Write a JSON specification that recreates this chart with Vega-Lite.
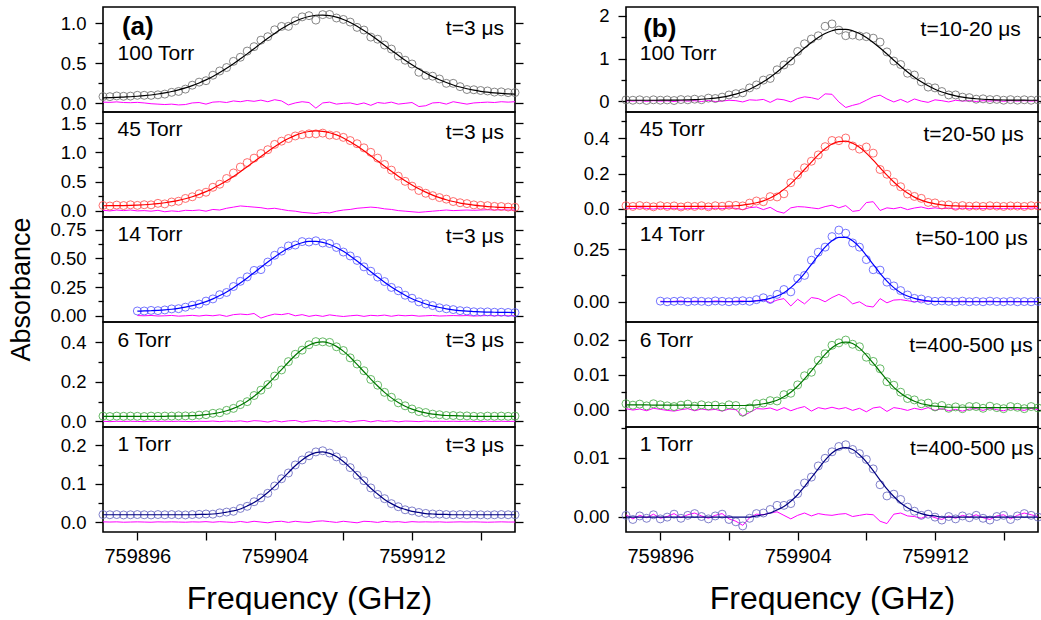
{
"$schema":"https://vega.github.io/schema/vega-lite/v6.json",
"background":"white",
"padding":{"left":7,"top":6,"right":0,"bottom":0},
"columns":2,
"spacing":{"row":0,"column":111},
"bounds":"flush",
"datasets":{
"a1":[{"f":759894,"obs":0.084,"fit":0.069,"res":0.015},{"f":759894.4,"obs":0.083,"fit":0.071,"res":0.012},{"f":759894.8,"obs":0.092,"fit":0.074,"res":0.018},{"f":759895.2,"obs":0.088,"fit":0.078,"res":0.01},{"f":759895.6,"obs":0.09,"fit":0.082,"res":0.008},{"f":759896,"obs":0.1,"fit":0.088,"res":0.012},{"f":759896.4,"obs":0.1,"fit":0.095,"res":0.005},{"f":759896.8,"obs":0.099,"fit":0.104,"res":-0.005},{"f":759897.2,"obs":0.106,"fit":0.116,"res":-0.01},{"f":759897.6,"obs":0.115,"fit":0.13,"res":-0.015},{"f":759898,"obs":0.137,"fit":0.147,"res":-0.01},{"f":759898.4,"obs":0.148,"fit":0.168,"res":-0.02},{"f":759898.8,"obs":0.177,"fit":0.192,"res":-0.015},{"f":759899.2,"obs":0.226,"fit":0.221,"res":0.005},{"f":759899.6,"obs":0.264,"fit":0.254,"res":0.01},{"f":759900,"obs":0.282,"fit":0.292,"res":-0.01},{"f":759900.4,"obs":0.35,"fit":0.335,"res":0.015},{"f":759900.8,"obs":0.403,"fit":0.383,"res":0.02},{"f":759901.2,"obs":0.446,"fit":0.436,"res":0.01},{"f":759901.6,"obs":0.523,"fit":0.493,"res":0.03},{"f":759902,"obs":0.574,"fit":0.554,"res":0.02},{"f":759902.4,"obs":0.651,"fit":0.616,"res":0.035},{"f":759902.8,"obs":0.706,"fit":0.681,"res":0.025},{"f":759903.2,"obs":0.787,"fit":0.747,"res":0.04},{"f":759903.6,"obs":0.83,"fit":0.81,"res":0.02},{"f":759904,"obs":0.916,"fit":0.871,"res":0.045},{"f":759904.4,"obs":0.958,"fit":0.928,"res":0.03},{"f":759904.8,"obs":0.959,"fit":0.979,"res":-0.02},{"f":759905.2,"obs":1.028,"fit":1.023,"res":0.005},{"f":759905.6,"obs":1.077,"fit":1.057,"res":0.02},{"f":759906,"obs":1.092,"fit":1.082,"res":0.01},{"f":759906.4,"obs":1.037,"fit":1.097,"res":-0.06},{"f":759906.8,"obs":1.105,"fit":1.1,"res":0.005},{"f":759907.2,"obs":1.107,"fit":1.092,"res":0.015},{"f":759907.6,"obs":1.063,"fit":1.073,"res":-0.01},{"f":759908,"obs":1.045,"fit":1.045,"res":0},{"f":759908.4,"obs":1.012,"fit":1.007,"res":0.005},{"f":759908.8,"obs":0.946,"fit":0.961,"res":-0.015},{"f":759909.2,"obs":0.913,"fit":0.908,"res":0.005},{"f":759909.6,"obs":0.825,"fit":0.85,"res":-0.025},{"f":759910,"obs":0.799,"fit":0.789,"res":0.01},{"f":759910.4,"obs":0.726,"fit":0.726,"res":0},{"f":759910.8,"obs":0.676,"fit":0.661,"res":0.015},{"f":759911.2,"obs":0.589,"fit":0.599,"res":-0.01},{"f":759911.6,"obs":0.537,"fit":0.537,"res":0},{"f":759912,"obs":0.49,"fit":0.48,"res":0.01},{"f":759912.4,"obs":0.387,"fit":0.427,"res":-0.04},{"f":759912.8,"obs":0.347,"fit":0.377,"res":-0.03},{"f":759913.2,"obs":0.338,"fit":0.333,"res":0.005},{"f":759913.6,"obs":0.303,"fit":0.293,"res":0.01},{"f":759914,"obs":0.249,"fit":0.259,"res":-0.01},{"f":759914.4,"obs":0.249,"fit":0.229,"res":0.02},{"f":759914.8,"obs":0.208,"fit":0.203,"res":0.005},{"f":759915.2,"obs":0.172,"fit":0.182,"res":-0.01},{"f":759915.6,"obs":0.169,"fit":0.164,"res":0.005},{"f":759916,"obs":0.16,"fit":0.15,"res":0.01},{"f":759916.4,"obs":0.154,"fit":0.139,"res":0.015},{"f":759916.8,"obs":0.14,"fit":0.13,"res":0.01},{"f":759917.2,"obs":0.143,"fit":0.123,"res":0.02},{"f":759917.6,"obs":0.133,"fit":0.118,"res":0.015},{"f":759918,"obs":0.134,"fit":0.114,"res":0.02}],
"a2":[{"f":759894,"obs":0.088,"fit":0.083,"res":0.005},{"f":759894.4,"obs":0.079,"fit":0.084,"res":-0.005},{"f":759894.8,"obs":0.095,"fit":0.085,"res":0.01},{"f":759895.2,"obs":0.087,"fit":0.087,"res":0},{"f":759895.6,"obs":0.1,"fit":0.09,"res":0.01},{"f":759896,"obs":0.09,"fit":0.095,"res":-0.005},{"f":759896.4,"obs":0.101,"fit":0.101,"res":0},{"f":759896.8,"obs":0.099,"fit":0.109,"res":-0.01},{"f":759897.2,"obs":0.125,"fit":0.12,"res":0.005},{"f":759897.6,"obs":0.115,"fit":0.135,"res":-0.02},{"f":759898,"obs":0.148,"fit":0.153,"res":-0.005},{"f":759898.4,"obs":0.161,"fit":0.176,"res":-0.015},{"f":759898.8,"obs":0.209,"fit":0.204,"res":0.005},{"f":759899.2,"obs":0.238,"fit":0.238,"res":0},{"f":759899.6,"obs":0.289,"fit":0.279,"res":0.01},{"f":759900,"obs":0.316,"fit":0.326,"res":-0.01},{"f":759900.4,"obs":0.401,"fit":0.381,"res":0.02},{"f":759900.8,"obs":0.453,"fit":0.443,"res":0.01},{"f":759901.2,"obs":0.552,"fit":0.512,"res":0.04},{"f":759901.6,"obs":0.647,"fit":0.587,"res":0.06},{"f":759902,"obs":0.749,"fit":0.669,"res":0.08},{"f":759902.4,"obs":0.825,"fit":0.755,"res":0.07},{"f":759902.8,"obs":0.902,"fit":0.842,"res":0.06},{"f":759903.2,"obs":0.981,"fit":0.931,"res":0.05},{"f":759903.6,"obs":1.047,"fit":1.017,"res":0.03},{"f":759904,"obs":1.138,"fit":1.098,"res":0.04},{"f":759904.4,"obs":1.194,"fit":1.174,"res":0.02},{"f":759904.8,"obs":1.239,"fit":1.239,"res":0},{"f":759905.2,"obs":1.283,"fit":1.293,"res":-0.01},{"f":759905.6,"obs":1.304,"fit":1.334,"res":-0.03},{"f":759906,"obs":1.32,"fit":1.36,"res":-0.04},{"f":759906.4,"obs":1.319,"fit":1.369,"res":-0.05},{"f":759906.8,"obs":1.332,"fit":1.362,"res":-0.03},{"f":759907.2,"obs":1.299,"fit":1.339,"res":-0.04},{"f":759907.6,"obs":1.291,"fit":1.301,"res":-0.01},{"f":759908,"obs":1.259,"fit":1.249,"res":0.01},{"f":759908.4,"obs":1.204,"fit":1.184,"res":0.02},{"f":759908.8,"obs":1.15,"fit":1.11,"res":0.04},{"f":759909.2,"obs":1.079,"fit":1.029,"res":0.05},{"f":759909.6,"obs":1.002,"fit":0.942,"res":0.06},{"f":759910,"obs":0.902,"fit":0.852,"res":0.05},{"f":759910.4,"obs":0.793,"fit":0.763,"res":0.03},{"f":759910.8,"obs":0.696,"fit":0.676,"res":0.02},{"f":759911.2,"obs":0.592,"fit":0.592,"res":0},{"f":759911.6,"obs":0.503,"fit":0.513,"res":-0.01},{"f":759912,"obs":0.421,"fit":0.441,"res":-0.02},{"f":759912.4,"obs":0.346,"fit":0.376,"res":-0.03},{"f":759912.8,"obs":0.298,"fit":0.318,"res":-0.02},{"f":759913.2,"obs":0.257,"fit":0.267,"res":-0.01},{"f":759913.6,"obs":0.224,"fit":0.224,"res":0},{"f":759914,"obs":0.197,"fit":0.187,"res":0.01},{"f":759914.4,"obs":0.156,"fit":0.156,"res":0},{"f":759914.8,"obs":0.135,"fit":0.13,"res":0.005},{"f":759915.2,"obs":0.12,"fit":0.11,"res":0.01},{"f":759915.6,"obs":0.098,"fit":0.093,"res":0.005},{"f":759916,"obs":0.09,"fit":0.08,"res":0.01},{"f":759916.4,"obs":0.085,"fit":0.07,"res":0.015},{"f":759916.8,"obs":0.072,"fit":0.062,"res":0.01},{"f":759917.2,"obs":0.07,"fit":0.055,"res":0.015},{"f":759917.6,"obs":0.061,"fit":0.051,"res":0.01},{"f":759918,"obs":0.057,"fit":0.047,"res":0.01}],
"a3":[{"f":759896,"obs":0.042,"fit":0.04,"res":0.002},{"f":759896.4,"obs":0.042,"fit":0.042,"res":0},{"f":759896.8,"obs":0.047,"fit":0.044,"res":0.003},{"f":759897.2,"obs":0.045,"fit":0.047,"res":-0.002},{"f":759897.6,"obs":0.051,"fit":0.051,"res":0},{"f":759898,"obs":0.06,"fit":0.057,"res":0.003},{"f":759898.4,"obs":0.062,"fit":0.065,"res":-0.003},{"f":759898.8,"obs":0.075,"fit":0.075,"res":0},{"f":759899.2,"obs":0.092,"fit":0.088,"res":0.004},{"f":759899.6,"obs":0.102,"fit":0.104,"res":-0.002},{"f":759900,"obs":0.128,"fit":0.123,"res":0.005},{"f":759900.4,"obs":0.147,"fit":0.147,"res":0},{"f":759900.8,"obs":0.184,"fit":0.176,"res":0.008},{"f":759901.2,"obs":0.203,"fit":0.208,"res":-0.005},{"f":759901.6,"obs":0.255,"fit":0.245,"res":0.01},{"f":759902,"obs":0.3,"fit":0.285,"res":0.015},{"f":759902.4,"obs":0.339,"fit":0.329,"res":0.01},{"f":759902.8,"obs":0.395,"fit":0.375,"res":0.02},{"f":759903.2,"obs":0.402,"fit":0.422,"res":-0.02},{"f":759903.6,"obs":0.468,"fit":0.468,"res":0},{"f":759904,"obs":0.527,"fit":0.512,"res":0.015},{"f":759904.4,"obs":0.563,"fit":0.553,"res":0.01},{"f":759904.8,"obs":0.608,"fit":0.588,"res":0.02},{"f":759905.2,"obs":0.616,"fit":0.616,"res":0},{"f":759905.6,"obs":0.646,"fit":0.636,"res":0.01},{"f":759906,"obs":0.642,"fit":0.647,"res":-0.005},{"f":759906.4,"obs":0.653,"fit":0.648,"res":0.005},{"f":759906.8,"obs":0.634,"fit":0.639,"res":-0.005},{"f":759907.2,"obs":0.629,"fit":0.621,"res":0.008},{"f":759907.6,"obs":0.595,"fit":0.595,"res":0},{"f":759908,"obs":0.555,"fit":0.561,"res":-0.006},{"f":759908.4,"obs":0.521,"fit":0.521,"res":0},{"f":759908.8,"obs":0.482,"fit":0.477,"res":0.005},{"f":759909.2,"obs":0.426,"fit":0.431,"res":-0.005},{"f":759909.6,"obs":0.388,"fit":0.384,"res":0.004},{"f":759910,"obs":0.337,"fit":0.337,"res":0},{"f":759910.4,"obs":0.298,"fit":0.292,"res":0.006},{"f":759910.8,"obs":0.247,"fit":0.251,"res":-0.004},{"f":759911.2,"obs":0.218,"fit":0.213,"res":0.005},{"f":759911.6,"obs":0.179,"fit":0.179,"res":0},{"f":759912,"obs":0.153,"fit":0.149,"res":0.004},{"f":759912.4,"obs":0.121,"fit":0.124,"res":-0.003},{"f":759912.8,"obs":0.103,"fit":0.103,"res":0},{"f":759913.2,"obs":0.089,"fit":0.086,"res":0.003},{"f":759913.6,"obs":0.07,"fit":0.072,"res":-0.002},{"f":759914,"obs":0.061,"fit":0.061,"res":0},{"f":759914.4,"obs":0.054,"fit":0.052,"res":0.002},{"f":759914.8,"obs":0.045,"fit":0.045,"res":0},{"f":759915.2,"obs":0.042,"fit":0.04,"res":0.002},{"f":759915.6,"obs":0.035,"fit":0.037,"res":-0.002},{"f":759916,"obs":0.034,"fit":0.034,"res":0},{"f":759916.4,"obs":0.034,"fit":0.032,"res":0.002},{"f":759916.8,"obs":0.031,"fit":0.031,"res":0},{"f":759917.2,"obs":0.031,"fit":0.029,"res":0.002},{"f":759917.6,"obs":0.029,"fit":0.029,"res":0},{"f":759918,"obs":0.028,"fit":0.028,"res":0}],
"a4":[{"f":759894,"obs":0.027,"fit":0.026,"res":0.001},{"f":759894.4,"obs":0.025,"fit":0.026,"res":-0.001},{"f":759894.8,"obs":0.027,"fit":0.026,"res":0.001},{"f":759895.2,"obs":0.026,"fit":0.026,"res":0},{"f":759895.6,"obs":0.027,"fit":0.026,"res":0.001},{"f":759896,"obs":0.026,"fit":0.026,"res":0},{"f":759896.4,"obs":0.025,"fit":0.026,"res":-0.001},{"f":759896.8,"obs":0.027,"fit":0.026,"res":0.001},{"f":759897.2,"obs":0.026,"fit":0.026,"res":0},{"f":759897.6,"obs":0.027,"fit":0.026,"res":0.001},{"f":759898,"obs":0.027,"fit":0.027,"res":0},{"f":759898.4,"obs":0.028,"fit":0.027,"res":0.001},{"f":759898.8,"obs":0.028,"fit":0.028,"res":0},{"f":759899.2,"obs":0.028,"fit":0.029,"res":-0.001},{"f":759899.6,"obs":0.032,"fit":0.031,"res":0.001},{"f":759900,"obs":0.034,"fit":0.034,"res":0},{"f":759900.4,"obs":0.041,"fit":0.039,"res":0.002},{"f":759900.8,"obs":0.044,"fit":0.045,"res":-0.001},{"f":759901.2,"obs":0.056,"fit":0.054,"res":0.002},{"f":759901.6,"obs":0.066,"fit":0.066,"res":0},{"f":759902,"obs":0.085,"fit":0.082,"res":0.003},{"f":759902.4,"obs":0.1,"fit":0.102,"res":-0.002},{"f":759902.8,"obs":0.131,"fit":0.127,"res":0.004},{"f":759903.2,"obs":0.158,"fit":0.156,"res":0.002},{"f":759903.6,"obs":0.186,"fit":0.189,"res":-0.003},{"f":759904,"obs":0.229,"fit":0.225,"res":0.004},{"f":759904.4,"obs":0.26,"fit":0.262,"res":-0.002},{"f":759904.8,"obs":0.302,"fit":0.299,"res":0.003},{"f":759905.2,"obs":0.339,"fit":0.334,"res":0.005},{"f":759905.6,"obs":0.36,"fit":0.363,"res":-0.003},{"f":759906,"obs":0.387,"fit":0.385,"res":0.002},{"f":759906.4,"obs":0.403,"fit":0.398,"res":0.005},{"f":759906.8,"obs":0.402,"fit":0.402,"res":0},{"f":759907.2,"obs":0.399,"fit":0.395,"res":0.004},{"f":759907.6,"obs":0.377,"fit":0.379,"res":-0.002},{"f":759908,"obs":0.358,"fit":0.355,"res":0.003},{"f":759908.4,"obs":0.321,"fit":0.324,"res":-0.003},{"f":759908.8,"obs":0.29,"fit":0.288,"res":0.002},{"f":759909.2,"obs":0.256,"fit":0.251,"res":0.005},{"f":759909.6,"obs":0.212,"fit":0.214,"res":-0.002},{"f":759910,"obs":0.183,"fit":0.179,"res":0.004},{"f":759910.4,"obs":0.147,"fit":0.147,"res":0},{"f":759910.8,"obs":0.122,"fit":0.119,"res":0.003},{"f":759911.2,"obs":0.094,"fit":0.096,"res":-0.002},{"f":759911.6,"obs":0.079,"fit":0.077,"res":0.002},{"f":759912,"obs":0.063,"fit":0.062,"res":0.001},{"f":759912.4,"obs":0.05,"fit":0.051,"res":-0.001},{"f":759912.8,"obs":0.045,"fit":0.043,"res":0.002},{"f":759913.2,"obs":0.037,"fit":0.037,"res":0},{"f":759913.6,"obs":0.034,"fit":0.033,"res":0.001},{"f":759914,"obs":0.03,"fit":0.03,"res":0},{"f":759914.4,"obs":0.03,"fit":0.029,"res":0.001},{"f":759914.8,"obs":0.028,"fit":0.028,"res":0},{"f":759915.2,"obs":0.028,"fit":0.027,"res":0.001},{"f":759915.6,"obs":0.026,"fit":0.026,"res":0},{"f":759916,"obs":0.025,"fit":0.026,"res":-0.001},{"f":759916.4,"obs":0.027,"fit":0.026,"res":0.001},{"f":759916.8,"obs":0.026,"fit":0.026,"res":0},{"f":759917.2,"obs":0.027,"fit":0.026,"res":0.001},{"f":759917.6,"obs":0.026,"fit":0.026,"res":0},{"f":759918,"obs":0.027,"fit":0.026,"res":0.001}],
"a5":[{"f":759894,"obs":0.0195,"fit":0.019,"res":0.0005},{"f":759894.4,"obs":0.019,"fit":0.019,"res":0},{"f":759894.8,"obs":0.0195,"fit":0.019,"res":0.0005},{"f":759895.2,"obs":0.0185,"fit":0.019,"res":-0.0005},{"f":759895.6,"obs":0.019,"fit":0.019,"res":0},{"f":759896,"obs":0.0195,"fit":0.019,"res":0.0005},{"f":759896.4,"obs":0.019,"fit":0.019,"res":0},{"f":759896.8,"obs":0.0185,"fit":0.019,"res":-0.0005},{"f":759897.2,"obs":0.0195,"fit":0.019,"res":0.0005},{"f":759897.6,"obs":0.019,"fit":0.019,"res":0},{"f":759898,"obs":0.0195,"fit":0.019,"res":0.0005},{"f":759898.4,"obs":0.019,"fit":0.019,"res":0},{"f":759898.8,"obs":0.0185,"fit":0.019,"res":-0.0005},{"f":759899.2,"obs":0.0195,"fit":0.019,"res":0.0005},{"f":759899.6,"obs":0.02,"fit":0.02,"res":0},{"f":759900,"obs":0.021,"fit":0.02,"res":0.001},{"f":759900.4,"obs":0.0205,"fit":0.021,"res":-0.0005},{"f":759900.8,"obs":0.024,"fit":0.023,"res":0.001},{"f":759901.2,"obs":0.026,"fit":0.026,"res":0},{"f":759901.6,"obs":0.028,"fit":0.029,"res":-0.001},{"f":759902,"obs":0.0355,"fit":0.034,"res":0.0015},{"f":759902.4,"obs":0.041,"fit":0.042,"res":-0.001},{"f":759902.8,"obs":0.053,"fit":0.051,"res":0.002},{"f":759903.2,"obs":0.063,"fit":0.063,"res":0},{"f":759903.6,"obs":0.075,"fit":0.077,"res":-0.002},{"f":759904,"obs":0.094,"fit":0.093,"res":0.001},{"f":759904.4,"obs":0.113,"fit":0.111,"res":0.002},{"f":759904.8,"obs":0.128,"fit":0.129,"res":-0.001},{"f":759905.2,"obs":0.149,"fit":0.147,"res":0.002},{"f":759905.6,"obs":0.162,"fit":0.162,"res":0},{"f":759906,"obs":0.173,"fit":0.174,"res":-0.001},{"f":759906.4,"obs":0.183,"fit":0.181,"res":0.002},{"f":759906.8,"obs":0.186,"fit":0.183,"res":0.003},{"f":759907.2,"obs":0.18,"fit":0.179,"res":0.001},{"f":759907.6,"obs":0.17,"fit":0.171,"res":-0.001},{"f":759908,"obs":0.16,"fit":0.158,"res":0.002},{"f":759908.4,"obs":0.142,"fit":0.142,"res":0},{"f":759908.8,"obs":0.122,"fit":0.124,"res":-0.002},{"f":759909.2,"obs":0.108,"fit":0.106,"res":0.002},{"f":759909.6,"obs":0.089,"fit":0.088,"res":0.001},{"f":759910,"obs":0.072,"fit":0.073,"res":-0.001},{"f":759910.4,"obs":0.061,"fit":0.059,"res":0.002},{"f":759910.8,"obs":0.048,"fit":0.048,"res":0},{"f":759911.2,"obs":0.04,"fit":0.039,"res":0.001},{"f":759911.6,"obs":0.032,"fit":0.033,"res":-0.001},{"f":759912,"obs":0.029,"fit":0.028,"res":0.001},{"f":759912.4,"obs":0.025,"fit":0.025,"res":0},{"f":759912.8,"obs":0.0225,"fit":0.022,"res":0.0005},{"f":759913.2,"obs":0.021,"fit":0.021,"res":0},{"f":759913.6,"obs":0.0205,"fit":0.02,"res":0.0005},{"f":759914,"obs":0.0195,"fit":0.02,"res":-0.0005},{"f":759914.4,"obs":0.019,"fit":0.019,"res":0},{"f":759914.8,"obs":0.0195,"fit":0.019,"res":0.0005},{"f":759915.2,"obs":0.019,"fit":0.019,"res":0},{"f":759915.6,"obs":0.0195,"fit":0.019,"res":0.0005},{"f":759916,"obs":0.019,"fit":0.019,"res":0},{"f":759916.4,"obs":0.0185,"fit":0.019,"res":-0.0005},{"f":759916.8,"obs":0.019,"fit":0.019,"res":0},{"f":759917.2,"obs":0.0195,"fit":0.019,"res":0.0005},{"f":759917.6,"obs":0.019,"fit":0.019,"res":0},{"f":759918,"obs":0.019,"fit":0.019,"res":0}],
"b1":[{"f":759894,"obs":0.03,"fit":0.02,"res":0.01},{"f":759894.4,"obs":0.02,"fit":0.02,"res":0},{"f":759894.8,"obs":0.03,"fit":0.02,"res":0.01},{"f":759895.2,"obs":0.015,"fit":0.02,"res":-0.005},{"f":759895.6,"obs":0.03,"fit":0.02,"res":0.01},{"f":759896,"obs":0.021,"fit":0.021,"res":0},{"f":759896.4,"obs":0.027,"fit":0.022,"res":0.005},{"f":759896.8,"obs":0.014,"fit":0.024,"res":-0.01},{"f":759897.2,"obs":0.036,"fit":0.026,"res":0.01},{"f":759897.6,"obs":0.03,"fit":0.03,"res":0},{"f":759898,"obs":0.045,"fit":0.035,"res":0.01},{"f":759898.4,"obs":0.033,"fit":0.043,"res":-0.01},{"f":759898.8,"obs":0.07,"fit":0.055,"res":0.015},{"f":759899.2,"obs":0.061,"fit":0.071,"res":-0.01},{"f":759899.6,"obs":0.093,"fit":0.093,"res":0},{"f":759900,"obs":0.144,"fit":0.124,"res":0.02},{"f":759900.4,"obs":0.174,"fit":0.164,"res":0.01},{"f":759900.8,"obs":0.195,"fit":0.215,"res":-0.02},{"f":759901.2,"obs":0.31,"fit":0.28,"res":0.03},{"f":759901.6,"obs":0.379,"fit":0.359,"res":0.02},{"f":759902,"obs":0.493,"fit":0.453,"res":0.04},{"f":759902.4,"obs":0.532,"fit":0.562,"res":-0.03},{"f":759902.8,"obs":0.735,"fit":0.685,"res":0.05},{"f":759903.2,"obs":0.849,"fit":0.819,"res":0.03},{"f":759903.6,"obs":0.941,"fit":0.961,"res":-0.02},{"f":759904,"obs":1.165,"fit":1.105,"res":0.06},{"f":759904.4,"obs":1.346,"fit":1.246,"res":0.1},{"f":759904.8,"obs":1.458,"fit":1.378,"res":0.08},{"f":759905.2,"obs":1.534,"fit":1.494,"res":0.04},{"f":759905.6,"obs":1.757,"fit":1.587,"res":0.17},{"f":759906,"obs":1.812,"fit":1.652,"res":0.16},{"f":759906.4,"obs":1.666,"fit":1.686,"res":-0.02},{"f":759906.8,"obs":1.536,"fit":1.686,"res":-0.15},{"f":759907.2,"obs":1.552,"fit":1.652,"res":-0.1},{"f":759907.6,"obs":1.527,"fit":1.587,"res":-0.06},{"f":759908,"obs":1.514,"fit":1.494,"res":0.02},{"f":759908.4,"obs":1.478,"fit":1.378,"res":0.1},{"f":759908.8,"obs":1.386,"fit":1.246,"res":0.14},{"f":759909.2,"obs":1.155,"fit":1.105,"res":0.05},{"f":759909.6,"obs":0.941,"fit":0.961,"res":-0.02},{"f":759910,"obs":0.859,"fit":0.819,"res":0.04},{"f":759910.4,"obs":0.655,"fit":0.685,"res":-0.03},{"f":759910.8,"obs":0.612,"fit":0.562,"res":0.05},{"f":759911.2,"obs":0.453,"fit":0.453,"res":0},{"f":759911.6,"obs":0.329,"fit":0.359,"res":-0.03},{"f":759912,"obs":0.31,"fit":0.28,"res":0.03},{"f":759912.4,"obs":0.225,"fit":0.215,"res":0.01},{"f":759912.8,"obs":0.144,"fit":0.164,"res":-0.02},{"f":759913.2,"obs":0.144,"fit":0.124,"res":0.02},{"f":759913.6,"obs":0.093,"fit":0.093,"res":0},{"f":759914,"obs":0.081,"fit":0.071,"res":0.01},{"f":759914.4,"obs":0.045,"fit":0.055,"res":-0.01},{"f":759914.8,"obs":0.053,"fit":0.043,"res":0.01},{"f":759915.2,"obs":0.035,"fit":0.035,"res":0},{"f":759915.6,"obs":0.04,"fit":0.03,"res":0.01},{"f":759916,"obs":0.021,"fit":0.026,"res":-0.005},{"f":759916.4,"obs":0.034,"fit":0.024,"res":0.01},{"f":759916.8,"obs":0.022,"fit":0.022,"res":0},{"f":759917.2,"obs":0.031,"fit":0.021,"res":0.01},{"f":759917.6,"obs":0.02,"fit":0.02,"res":0},{"f":759918,"obs":0.03,"fit":0.02,"res":0.01}],
"b2":[{"f":759894,"obs":0.017,"fit":0.013,"res":0.004},{"f":759894.4,"obs":0.013,"fit":0.013,"res":0},{"f":759894.8,"obs":0.018,"fit":0.013,"res":0.005},{"f":759895.2,"obs":0.015,"fit":0.013,"res":0.002},{"f":759895.6,"obs":0.011,"fit":0.013,"res":-0.002},{"f":759896,"obs":0.017,"fit":0.013,"res":0.004},{"f":759896.4,"obs":0.013,"fit":0.013,"res":0},{"f":759896.8,"obs":0.016,"fit":0.013,"res":0.003},{"f":759897.2,"obs":0.01,"fit":0.013,"res":-0.003},{"f":759897.6,"obs":0.015,"fit":0.013,"res":0.002},{"f":759898,"obs":0.013,"fit":0.013,"res":0},{"f":759898.4,"obs":0.017,"fit":0.013,"res":0.004},{"f":759898.8,"obs":0.011,"fit":0.013,"res":-0.002},{"f":759899.2,"obs":0.017,"fit":0.014,"res":0.003},{"f":759899.6,"obs":0.014,"fit":0.014,"res":0},{"f":759900,"obs":0.02,"fit":0.015,"res":0.005},{"f":759900.4,"obs":0.019,"fit":0.017,"res":0.002},{"f":759900.8,"obs":0.016,"fit":0.021,"res":-0.005},{"f":759901.2,"obs":0.032,"fit":0.026,"res":0.006},{"f":759901.6,"obs":0.044,"fit":0.034,"res":0.01},{"f":759902,"obs":0.04,"fit":0.045,"res":-0.005},{"f":759902.4,"obs":0.069,"fit":0.061,"res":0.008},{"f":759902.8,"obs":0.067,"fit":0.082,"res":-0.015},{"f":759903.2,"obs":0.085,"fit":0.11,"res":-0.025},{"f":759903.6,"obs":0.148,"fit":0.143,"res":0.005},{"f":759904,"obs":0.193,"fit":0.181,"res":0.012},{"f":759904.4,"obs":0.233,"fit":0.223,"res":0.01},{"f":759904.8,"obs":0.27,"fit":0.265,"res":0.005},{"f":759905.2,"obs":0.306,"fit":0.306,"res":0},{"f":759905.6,"obs":0.353,"fit":0.341,"res":0.012},{"f":759906,"obs":0.388,"fit":0.368,"res":0.02},{"f":759906.4,"obs":0.387,"fit":0.382,"res":0.005},{"f":759906.8,"obs":0.402,"fit":0.384,"res":0.018},{"f":759907.2,"obs":0.357,"fit":0.372,"res":-0.015},{"f":759907.6,"obs":0.339,"fit":0.349,"res":-0.01},{"f":759908,"obs":0.351,"fit":0.316,"res":0.035},{"f":759908.4,"obs":0.316,"fit":0.276,"res":0.04},{"f":759908.8,"obs":0.223,"fit":0.233,"res":-0.01},{"f":759909.2,"obs":0.196,"fit":0.191,"res":0.005},{"f":759909.6,"obs":0.152,"fit":0.152,"res":0},{"f":759910,"obs":0.125,"fit":0.117,"res":0.008},{"f":759910.4,"obs":0.084,"fit":0.089,"res":-0.005},{"f":759910.8,"obs":0.07,"fit":0.066,"res":0.004},{"f":759911.2,"obs":0.059,"fit":0.049,"res":0.01},{"f":759911.6,"obs":0.036,"fit":0.036,"res":0},{"f":759912,"obs":0.033,"fit":0.028,"res":0.005},{"f":759912.4,"obs":0.022,"fit":0.022,"res":0},{"f":759912.8,"obs":0.022,"fit":0.018,"res":0.004},{"f":759913.2,"obs":0.014,"fit":0.016,"res":-0.002},{"f":759913.6,"obs":0.018,"fit":0.015,"res":0.003},{"f":759914,"obs":0.014,"fit":0.014,"res":0},{"f":759914.4,"obs":0.016,"fit":0.013,"res":0.003},{"f":759914.8,"obs":0.013,"fit":0.013,"res":0},{"f":759915.2,"obs":0.017,"fit":0.013,"res":0.004},{"f":759915.6,"obs":0.015,"fit":0.013,"res":0.002},{"f":759916,"obs":0.013,"fit":0.013,"res":0},{"f":759916.4,"obs":0.016,"fit":0.013,"res":0.003},{"f":759916.8,"obs":0.015,"fit":0.013,"res":0.002},{"f":759917.2,"obs":0.013,"fit":0.013,"res":0},{"f":759917.6,"obs":0.017,"fit":0.013,"res":0.004},{"f":759918,"obs":0.016,"fit":0.013,"res":0.003}],
"b3":[{"f":759896,"obs":0.003,"fit":0,"res":0.003},{"f":759896.4,"obs":0,"fit":0,"res":0},{"f":759896.8,"obs":0.002,"fit":0,"res":0.002},{"f":759897.2,"obs":0.004,"fit":0,"res":0.004},{"f":759897.6,"obs":0,"fit":0,"res":0},{"f":759898,"obs":0.003,"fit":0,"res":0.003},{"f":759898.4,"obs":0.002,"fit":0,"res":0.002},{"f":759898.8,"obs":0,"fit":0,"res":0},{"f":759899.2,"obs":0.004,"fit":0,"res":0.004},{"f":759899.6,"obs":0.002,"fit":0,"res":0.002},{"f":759900,"obs":0,"fit":0,"res":0},{"f":759900.4,"obs":0.003,"fit":0,"res":0.003},{"f":759900.8,"obs":0.005,"fit":0.001,"res":0.004},{"f":759901.2,"obs":0.002,"fit":0.002,"res":0},{"f":759901.6,"obs":0.01,"fit":0.004,"res":0.006},{"f":759902,"obs":0.019,"fit":0.009,"res":0.01},{"f":759902.4,"obs":0.011,"fit":0.016,"res":-0.005},{"f":759902.8,"obs":0.035,"fit":0.027,"res":0.008},{"f":759903.2,"obs":0.058,"fit":0.043,"res":0.015},{"f":759903.6,"obs":0.047,"fit":0.067,"res":-0.02},{"f":759904,"obs":0.11,"fit":0.098,"res":0.012},{"f":759904.4,"obs":0.125,"fit":0.135,"res":-0.01},{"f":759904.8,"obs":0.197,"fit":0.177,"res":0.02},{"f":759905.2,"obs":0.235,"fit":0.22,"res":0.015},{"f":759905.6,"obs":0.259,"fit":0.259,"res":0},{"f":759906,"obs":0.309,"fit":0.289,"res":0.02},{"f":759906.4,"obs":0.34,"fit":0.305,"res":0.035},{"f":759906.8,"obs":0.325,"fit":0.305,"res":0.02},{"f":759907.2,"obs":0.279,"fit":0.289,"res":-0.01},{"f":759907.6,"obs":0.259,"fit":0.259,"res":0},{"f":759908,"obs":0.2,"fit":0.22,"res":-0.02},{"f":759908.4,"obs":0.152,"fit":0.177,"res":-0.025},{"f":759908.8,"obs":0.15,"fit":0.135,"res":0.015},{"f":759909.2,"obs":0.093,"fit":0.098,"res":-0.005},{"f":759909.6,"obs":0.075,"fit":0.067,"res":0.008},{"f":759910,"obs":0.053,"fit":0.043,"res":0.01},{"f":759910.4,"obs":0.032,"fit":0.027,"res":0.005},{"f":759910.8,"obs":0.016,"fit":0.016,"res":0},{"f":759911.2,"obs":0.013,"fit":0.009,"res":0.004},{"f":759911.6,"obs":0.006,"fit":0.004,"res":0.002},{"f":759912,"obs":0.002,"fit":0.002,"res":0},{"f":759912.4,"obs":0.004,"fit":0.001,"res":0.003},{"f":759912.8,"obs":0.002,"fit":0,"res":0.002},{"f":759913.2,"obs":0,"fit":0,"res":0},{"f":759913.6,"obs":0.003,"fit":0,"res":0.003},{"f":759914,"obs":0,"fit":0,"res":0},{"f":759914.4,"obs":0.002,"fit":0,"res":0.002},{"f":759914.8,"obs":0,"fit":0,"res":0},{"f":759915.2,"obs":0.003,"fit":0,"res":0.003},{"f":759915.6,"obs":0.001,"fit":0,"res":0.001},{"f":759916,"obs":0,"fit":0,"res":0},{"f":759916.4,"obs":0.002,"fit":0,"res":0.002},{"f":759916.8,"obs":0,"fit":0,"res":0},{"f":759917.2,"obs":0.001,"fit":0,"res":0.001},{"f":759917.6,"obs":0,"fit":0,"res":0},{"f":759918,"obs":0.002,"fit":0,"res":0.002}],
"b4":[{"f":759894,"obs":0.0017,"fit":0.0014,"res":0.0003},{"f":759894.4,"obs":0.0013,"fit":0.0014,"res":-0.0001},{"f":759894.8,"obs":0.0016,"fit":0.0014,"res":0.0002},{"f":759895.2,"obs":0.0011,"fit":0.0014,"res":-0.0003},{"f":759895.6,"obs":0.0017,"fit":0.0013,"res":0.0004},{"f":759896,"obs":0.0014,"fit":0.0013,"res":0.0001},{"f":759896.4,"obs":0.0011,"fit":0.0013,"res":-0.0002},{"f":759896.8,"obs":0.0009,"fit":0.0013,"res":-0.0004},{"f":759897.2,"obs":0.0013,"fit":0.0013,"res":0},{"f":759897.6,"obs":0.0016,"fit":0.0013,"res":0.0003},{"f":759898,"obs":0.001,"fit":0.0013,"res":-0.0003},{"f":759898.4,"obs":0.0014,"fit":0.0012,"res":0.0002},{"f":759898.8,"obs":0.0011,"fit":0.0012,"res":-0.0001},{"f":759899.2,"obs":0.0013,"fit":0.0012,"res":0.0001},{"f":759899.6,"obs":0.0008,"fit":0.0012,"res":-0.0004},{"f":759900,"obs":0.0014,"fit":0.0012,"res":0.0002},{"f":759900.4,"obs":0.0012,"fit":0.0012,"res":0},{"f":759900.8,"obs":-0.0007,"fit":0.0012,"res":-0.0018},{"f":759901.2,"obs":0.0005,"fit":0.0013,"res":-0.0008},{"f":759901.6,"obs":0.0017,"fit":0.0014,"res":0.0003},{"f":759902,"obs":0.0019,"fit":0.0017,"res":0.0002},{"f":759902.4,"obs":0.0026,"fit":0.0021,"res":0.0005},{"f":759902.8,"obs":0.0025,"fit":0.0027,"res":-0.0002},{"f":759903.2,"obs":0.0043,"fit":0.0037,"res":0.0006},{"f":759903.6,"obs":0.0047,"fit":0.005,"res":-0.0003},{"f":759904,"obs":0.0071,"fit":0.0067,"res":0.0004},{"f":759904.4,"obs":0.0097,"fit":0.0088,"res":0.0009},{"f":759904.8,"obs":0.0107,"fit":0.0111,"res":-0.0004},{"f":759905.2,"obs":0.0141,"fit":0.0135,"res":0.0006},{"f":759905.6,"obs":0.016,"fit":0.0158,"res":0.0002},{"f":759906,"obs":0.0184,"fit":0.0177,"res":0.0007},{"f":759906.4,"obs":0.0191,"fit":0.0189,"res":0.0002},{"f":759906.8,"obs":0.0199,"fit":0.0193,"res":0.0006},{"f":759907.2,"obs":0.0187,"fit":0.0189,"res":-0.0002},{"f":759907.6,"obs":0.018,"fit":0.0176,"res":0.0004},{"f":759908,"obs":0.015,"fit":0.0156,"res":-0.0006},{"f":759908.4,"obs":0.0138,"fit":0.0133,"res":0.0005},{"f":759908.8,"obs":0.0117,"fit":0.0109,"res":0.0008},{"f":759909.2,"obs":0.008,"fit":0.0085,"res":-0.0005},{"f":759909.6,"obs":0.007,"fit":0.0064,"res":0.0006},{"f":759910,"obs":0.005,"fit":0.0047,"res":0.0003},{"f":759910.4,"obs":0.0032,"fit":0.0034,"res":-0.0002},{"f":759910.8,"obs":0.0028,"fit":0.0024,"res":0.0004},{"f":759911.2,"obs":0.0017,"fit":0.0017,"res":0},{"f":759911.6,"obs":0.0019,"fit":0.0013,"res":0.0006},{"f":759912,"obs":0.0008,"fit":0.001,"res":-0.0002},{"f":759912.4,"obs":0.0012,"fit":0.0009,"res":0.0003},{"f":759912.8,"obs":0.0004,"fit":0.0007,"res":-0.0003},{"f":759913.2,"obs":0.0008,"fit":0.0007,"res":0.0001},{"f":759913.6,"obs":0.0003,"fit":0.0007,"res":-0.0004},{"f":759914,"obs":0.0009,"fit":0.0007,"res":0.0002},{"f":759914.4,"obs":0.0009,"fit":0.0006,"res":0.0003},{"f":759914.8,"obs":0.0004,"fit":0.0006,"res":-0.0002},{"f":759915.2,"obs":0.001,"fit":0.0006,"res":0.0004},{"f":759915.6,"obs":0.0006,"fit":0.0006,"res":0},{"f":759916,"obs":0.0003,"fit":0.0006,"res":-0.0003},{"f":759916.4,"obs":0.0009,"fit":0.0006,"res":0.0003},{"f":759916.8,"obs":0.0007,"fit":0.0006,"res":0.0001},{"f":759917.2,"obs":0.0003,"fit":0.0005,"res":-0.0002},{"f":759917.6,"obs":0.0009,"fit":0.0005,"res":0.0004},{"f":759918,"obs":0.0005,"fit":0.0005,"res":0}],
"b5":[{"f":759894,"obs":0.0002,"fit":-0.0001,"res":0.0003},{"f":759894.4,"obs":-0.0005,"fit":-0.0001,"res":-0.0004},{"f":759894.8,"obs":0.0001,"fit":-0.0001,"res":0.0002},{"f":759895.2,"obs":-0.0003,"fit":-0.0001,"res":-0.0002},{"f":759895.6,"obs":0.0003,"fit":-0.0001,"res":0.0004},{"f":759896,"obs":-0.0004,"fit":-0.0001,"res":-0.0003},{"f":759896.4,"obs":-0.0001,"fit":-0.0001,"res":0},{"f":759896.8,"obs":0.0004,"fit":-0.0001,"res":0.0005},{"f":759897.2,"obs":-0.0003,"fit":-0.0001,"res":-0.0002},{"f":759897.6,"obs":0.0002,"fit":-0.0001,"res":0.0003},{"f":759898,"obs":0.0005,"fit":-0.0001,"res":0.0006},{"f":759898.4,"obs":0,"fit":-0.0001,"res":0.0001},{"f":759898.8,"obs":-0.0004,"fit":-0.0001,"res":-0.0003},{"f":759899.2,"obs":0.0001,"fit":-0.0001,"res":0.0002},{"f":759899.6,"obs":0.0004,"fit":-0.0001,"res":0.0005},{"f":759900,"obs":-0.0005,"fit":-0.0001,"res":-0.0004},{"f":759900.4,"obs":-0.0009,"fit":-0.0001,"res":-0.0008},{"f":759900.8,"obs":-0.0016,"fit":-0.0001,"res":-0.0015},{"f":759901.2,"obs":-0.0003,"fit":-0.0001,"res":-0.0002},{"f":759901.6,"obs":0.0005,"fit":0.0001,"res":0.0004},{"f":759902,"obs":0.0006,"fit":0.0003,"res":0.0003},{"f":759902.4,"obs":0.0012,"fit":0.0006,"res":0.0006},{"f":759902.8,"obs":0.0019,"fit":0.0011,"res":0.0008},{"f":759903.2,"obs":0.0019,"fit":0.0017,"res":0.0002},{"f":759903.6,"obs":0.0022,"fit":0.0026,"res":-0.0004},{"f":759904,"obs":0.0039,"fit":0.0037,"res":0.0002},{"f":759904.4,"obs":0.0057,"fit":0.0051,"res":0.0006},{"f":759904.8,"obs":0.0067,"fit":0.0066,"res":0.0001},{"f":759905.2,"obs":0.0086,"fit":0.0081,"res":0.0005},{"f":759905.6,"obs":0.0099,"fit":0.0096,"res":0.0003},{"f":759906,"obs":0.011,"fit":0.0108,"res":0.0002},{"f":759906.4,"obs":0.0119,"fit":0.0115,"res":0.0004},{"f":759906.8,"obs":0.0122,"fit":0.0117,"res":0.0005},{"f":759907.2,"obs":0.0114,"fit":0.0114,"res":0},{"f":759907.6,"obs":0.0107,"fit":0.0105,"res":0.0002},{"f":759908,"obs":0.0097,"fit":0.0093,"res":0.0004},{"f":759908.4,"obs":0.0081,"fit":0.0078,"res":0.0003},{"f":759908.8,"obs":0.0054,"fit":0.0062,"res":-0.0008},{"f":759909.2,"obs":0.0035,"fit":0.0047,"res":-0.0012},{"f":759909.6,"obs":0.0038,"fit":0.0034,"res":0.0004},{"f":759910,"obs":0.0029,"fit":0.0023,"res":0.0006},{"f":759910.4,"obs":0.0016,"fit":0.0015,"res":0.0001},{"f":759910.8,"obs":0.0009,"fit":0.0009,"res":0},{"f":759911.2,"obs":0.0002,"fit":0.0005,"res":-0.0003},{"f":759911.6,"obs":0.0004,"fit":0.0002,"res":0.0002},{"f":759912,"obs":-0.0001,"fit":0.0001,"res":-0.0002},{"f":759912.4,"obs":-0.0006,"fit":-0.0001,"res":-0.0005},{"f":759912.8,"obs":0,"fit":-0.0001,"res":0.0001},{"f":759913.2,"obs":-0.0004,"fit":-0.0001,"res":-0.0003},{"f":759913.6,"obs":0.0001,"fit":-0.0001,"res":0.0002},{"f":759914,"obs":-0.0002,"fit":-0.0001,"res":-0.0001},{"f":759914.4,"obs":0.0002,"fit":-0.0001,"res":0.0003},{"f":759914.8,"obs":-0.0003,"fit":-0.0001,"res":-0.0002},{"f":759915.2,"obs":-0.0006,"fit":-0.0001,"res":-0.0005},{"f":759915.6,"obs":0,"fit":-0.0001,"res":0.0001},{"f":759916,"obs":0.0002,"fit":-0.0001,"res":0.0003},{"f":759916.4,"obs":-0.0005,"fit":-0.0001,"res":-0.0004},{"f":759916.8,"obs":0.0001,"fit":-0.0001,"res":0.0002},{"f":759917.2,"obs":0.0005,"fit":-0.0001,"res":0.0006},{"f":759917.6,"obs":0.0002,"fit":-0.0001,"res":0.0003},{"f":759918,"obs":-0.0001,"fit":-0.0001,"res":0}]
},
"concat":[
{"width":412,"height":105,"data":{"name":"a1"},"resolve":{"axis":{"y":"independent"}},
 "layer":[
  {"mark":{"type":"line","color":"#ff00ff","strokeWidth":1},"encoding":{"x":{"field":"f","type":"quantitative","scale":{"domain":[759894,759918],"nice":false,"zero":false},"axis":null},"y":{"field":"res","type":"quantitative","scale":{"domain":[-0.108,1.2],"nice":false,"zero":false},"axis":{"orient":"left","values":[0,0.25,0.5,0.75,1],"labelExpr":"abs(datum.value*2-round(datum.value*2))<1e-6 ? format(datum.value,'.1f') : ''","tickSize":{"condition":{"test":"abs(datum.value*2-round(datum.value*2))<1e-6","value":8},"value":5},"title":null}}}},
  {"mark":{"type":"point","shape":"circle","filled":false,"size":64,"strokeWidth":0.9,"opacity":0.9,"color":"#6b6b6b"},"encoding":{"x":{"field":"f","type":"quantitative","scale":{"domain":[759894,759918],"nice":false,"zero":false},"axis":null},"y":{"field":"obs","type":"quantitative","scale":{"domain":[-0.108,1.2],"nice":false,"zero":false},"axis":{"orient":"right","values":[0,0.25,0.5,0.75,1],"labels":false,"tickSize":{"condition":{"test":"abs(datum.value*2-round(datum.value*2))<1e-6","value":8},"value":5},"title":null}}}},
  {"mark":{"type":"line","color":"#000000","strokeWidth":1.2,"interpolate":"monotone"},"encoding":{"x":{"field":"f","type":"quantitative","scale":{"domain":[759894,759918],"nice":false,"zero":false},"axis":null},"y":{"field":"fit","type":"quantitative","scale":{"domain":[-0.108,1.2],"nice":false,"zero":false},"axis":null}}},
  {"data":{"values":[{"label":"(a)"}]},"mark":{"type":"text","align":"left","baseline":"alphabetic","fontSize":26,"fontWeight":"bold"},"encoding":{"text":{"field":"label","type":"nominal"},"x":{"datum":759895.1,"type":"quantitative","scale":{"domain":[759894,759918],"nice":false,"zero":false},"axis":null},"y":{"datum":0.845,"type":"quantitative","scale":{"domain":[-0.108,1.2],"nice":false,"zero":false},"axis":null}}},
  {"data":{"values":[{"label":"100 Torr"}]},"mark":{"type":"text","align":"left","baseline":"alphabetic"},"encoding":{"text":{"field":"label","type":"nominal"},"x":{"datum":759894.85,"type":"quantitative","scale":{"domain":[759894,759918],"nice":false,"zero":false},"axis":null},"y":{"datum":0.54,"type":"quantitative","scale":{"domain":[-0.108,1.2],"nice":false,"zero":false},"axis":null}}},
  {"data":{"values":[{"label":"t=3 μs"}]},"mark":{"type":"text","align":"right","baseline":"alphabetic"},"encoding":{"text":{"field":"label","type":"nominal"},"x":{"datum":759917.36,"type":"quantitative","scale":{"domain":[759894,759918],"nice":false,"zero":false},"axis":null},"y":{"datum":0.85,"type":"quantitative","scale":{"domain":[-0.108,1.2],"nice":false,"zero":false},"axis":null}}}
 ]},
{"width":412,"height":105,"data":{"name":"b1"},"resolve":{"axis":{"y":"independent"}},
 "layer":[
  {"mark":{"type":"line","color":"#ff00ff","strokeWidth":1},"encoding":{"x":{"field":"f","type":"quantitative","scale":{"domain":[759894,759918],"nice":false,"zero":false},"axis":null},"y":{"field":"res","type":"quantitative","scale":{"domain":[-0.256,2.21],"nice":false,"zero":false},"axis":{"orient":"left","values":[0,0.5,1,1.5,2],"labelExpr":"abs(datum.value-round(datum.value))<1e-6 ? format(datum.value,'d') : ''","tickSize":{"condition":{"test":"abs(datum.value-round(datum.value))<1e-6","value":8},"value":5},"title":null}}}},
  {"mark":{"type":"point","shape":"circle","filled":false,"size":64,"strokeWidth":0.9,"opacity":0.9,"color":"#6b6b6b"},"encoding":{"x":{"field":"f","type":"quantitative","scale":{"domain":[759894,759918],"nice":false,"zero":false},"axis":null},"y":{"field":"obs","type":"quantitative","scale":{"domain":[-0.256,2.21],"nice":false,"zero":false},"axis":{"orient":"right","values":[0,0.5,1,1.5,2],"labels":false,"tickSize":{"condition":{"test":"abs(datum.value-round(datum.value))<1e-6","value":8},"value":5},"title":null}}}},
  {"mark":{"type":"line","color":"#000000","strokeWidth":1.2,"interpolate":"monotone"},"encoding":{"x":{"field":"f","type":"quantitative","scale":{"domain":[759894,759918],"nice":false,"zero":false},"axis":null},"y":{"field":"fit","type":"quantitative","scale":{"domain":[-0.256,2.21],"nice":false,"zero":false},"axis":null}}},
  {"data":{"values":[{"label":"(b)"}]},"mark":{"type":"text","align":"left","baseline":"alphabetic","fontSize":26,"fontWeight":"bold"},"encoding":{"text":{"field":"label","type":"nominal"},"x":{"datum":759895.0,"type":"quantitative","scale":{"domain":[759894,759918],"nice":false,"zero":false},"axis":null},"y":{"datum":1.517,"type":"quantitative","scale":{"domain":[-0.256,2.21],"nice":false,"zero":false},"axis":null}}},
  {"data":{"values":[{"label":"100 Torr"}]},"mark":{"type":"text","align":"left","baseline":"alphabetic"},"encoding":{"text":{"field":"label","type":"nominal"},"x":{"datum":759894.8,"type":"quantitative","scale":{"domain":[759894,759918],"nice":false,"zero":false},"axis":null},"y":{"datum":0.965,"type":"quantitative","scale":{"domain":[-0.256,2.21],"nice":false,"zero":false},"axis":null}}},
  {"data":{"values":[{"label":"t=10-20 μs"}]},"mark":{"type":"text","align":"right","baseline":"alphabetic"},"encoding":{"text":{"field":"label","type":"nominal"},"x":{"datum":759917.0,"type":"quantitative","scale":{"domain":[759894,759918],"nice":false,"zero":false},"axis":null},"y":{"datum":1.529,"type":"quantitative","scale":{"domain":[-0.256,2.21],"nice":false,"zero":false},"axis":null}}}
 ]},
{"width":412,"height":105,"data":{"name":"a2"},"resolve":{"axis":{"y":"independent"}},
 "layer":[
  {"mark":{"type":"line","color":"#ff00ff","strokeWidth":1},"encoding":{"x":{"field":"f","type":"quantitative","scale":{"domain":[759894,759918],"nice":false,"zero":false},"axis":null},"y":{"field":"res","type":"quantitative","scale":{"domain":[-0.11,1.695],"nice":false,"zero":false},"axis":{"orient":"left","values":[0,0.25,0.5,0.75,1,1.25,1.5],"labelExpr":"abs(datum.value*2-round(datum.value*2))<1e-6 ? format(datum.value,'.1f') : ''","tickSize":{"condition":{"test":"abs(datum.value*2-round(datum.value*2))<1e-6","value":8},"value":5},"title":null}}}},
  {"mark":{"type":"point","shape":"circle","filled":false,"size":64,"strokeWidth":0.9,"opacity":0.9,"color":"#ff4d4d"},"encoding":{"x":{"field":"f","type":"quantitative","scale":{"domain":[759894,759918],"nice":false,"zero":false},"axis":null},"y":{"field":"obs","type":"quantitative","scale":{"domain":[-0.11,1.695],"nice":false,"zero":false},"axis":{"orient":"right","values":[0,0.25,0.5,0.75,1,1.25,1.5],"labels":false,"tickSize":{"condition":{"test":"abs(datum.value*2-round(datum.value*2))<1e-6","value":8},"value":5},"title":null}}}},
  {"mark":{"type":"line","color":"#ff0000","strokeWidth":1.2,"interpolate":"monotone"},"encoding":{"x":{"field":"f","type":"quantitative","scale":{"domain":[759894,759918],"nice":false,"zero":false},"axis":null},"y":{"field":"fit","type":"quantitative","scale":{"domain":[-0.11,1.695],"nice":false,"zero":false},"axis":null}}},
  {"data":{"values":[{"label":"45 Torr"}]},"mark":{"type":"text","align":"left","baseline":"alphabetic"},"encoding":{"text":{"field":"label","type":"nominal"},"x":{"datum":759894.85,"type":"quantitative","scale":{"domain":[759894,759918],"nice":false,"zero":false},"axis":null},"y":{"datum":1.284,"type":"quantitative","scale":{"domain":[-0.11,1.695],"nice":false,"zero":false},"axis":null}}},
  {"data":{"values":[{"label":"t=3 μs"}]},"mark":{"type":"text","align":"right","baseline":"alphabetic"},"encoding":{"text":{"field":"label","type":"nominal"},"x":{"datum":759917.36,"type":"quantitative","scale":{"domain":[759894,759918],"nice":false,"zero":false},"axis":null},"y":{"datum":1.233,"type":"quantitative","scale":{"domain":[-0.11,1.695],"nice":false,"zero":false},"axis":null}}}
 ]},
{"width":412,"height":105,"data":{"name":"b2"},"resolve":{"axis":{"y":"independent"}},
 "layer":[
  {"mark":{"type":"line","color":"#ff00ff","strokeWidth":1},"encoding":{"x":{"field":"f","type":"quantitative","scale":{"domain":[759894,759918],"nice":false,"zero":false},"axis":null},"y":{"field":"res","type":"quantitative","scale":{"domain":[-0.047,0.55],"nice":false,"zero":false},"axis":{"orient":"left","values":[0,0.1,0.2,0.3,0.4,0.5],"labelExpr":"abs(datum.value*5-round(datum.value*5))<1e-6 && datum.value<0.45 ? format(datum.value,'.1f') : ''","tickSize":{"condition":{"test":"abs(datum.value*5-round(datum.value*5))<1e-6","value":8},"value":5},"title":null}}}},
  {"mark":{"type":"point","shape":"circle","filled":false,"size":64,"strokeWidth":0.9,"opacity":0.9,"color":"#ff4d4d"},"encoding":{"x":{"field":"f","type":"quantitative","scale":{"domain":[759894,759918],"nice":false,"zero":false},"axis":null},"y":{"field":"obs","type":"quantitative","scale":{"domain":[-0.047,0.55],"nice":false,"zero":false},"axis":{"orient":"right","values":[0,0.1,0.2,0.3,0.4,0.5],"labels":false,"tickSize":{"condition":{"test":"abs(datum.value*5-round(datum.value*5))<1e-6","value":8},"value":5},"title":null}}}},
  {"mark":{"type":"line","color":"#ff0000","strokeWidth":1.2,"interpolate":"monotone"},"encoding":{"x":{"field":"f","type":"quantitative","scale":{"domain":[759894,759918],"nice":false,"zero":false},"axis":null},"y":{"field":"fit","type":"quantitative","scale":{"domain":[-0.047,0.55],"nice":false,"zero":false},"axis":null}}},
  {"data":{"values":[{"label":"45 Torr"}]},"mark":{"type":"text","align":"left","baseline":"alphabetic"},"encoding":{"text":{"field":"label","type":"nominal"},"x":{"datum":759894.8,"type":"quantitative","scale":{"domain":[759894,759918],"nice":false,"zero":false},"axis":null},"y":{"datum":0.4135,"type":"quantitative","scale":{"domain":[-0.047,0.55],"nice":false,"zero":false},"axis":null}}},
  {"data":{"values":[{"label":"t=20-50 μs"}]},"mark":{"type":"text","align":"right","baseline":"alphabetic"},"encoding":{"text":{"field":"label","type":"nominal"},"x":{"datum":759917.17,"type":"quantitative","scale":{"domain":[759894,759918],"nice":false,"zero":false},"axis":null},"y":{"datum":0.385,"type":"quantitative","scale":{"domain":[-0.047,0.55],"nice":false,"zero":false},"axis":null}}}
 ]},
{"width":412,"height":105,"data":{"name":"a3"},"resolve":{"axis":{"y":"independent"}},
 "layer":[
  {"mark":{"type":"line","color":"#ff00ff","strokeWidth":1},"encoding":{"x":{"field":"f","type":"quantitative","scale":{"domain":[759894,759918],"nice":false,"zero":false},"axis":null},"y":{"field":"res","type":"quantitative","scale":{"domain":[-0.054,0.86],"nice":false,"zero":false},"axis":{"orient":"left","values":[0,0.125,0.25,0.375,0.5,0.625,0.75],"labelExpr":"abs(datum.value*4-round(datum.value*4))<1e-6 ? format(datum.value,'.2f') : ''","tickSize":{"condition":{"test":"abs(datum.value*4-round(datum.value*4))<1e-6","value":8},"value":5},"title":"Absorbance","titleFontSize":27,"titleAnchor":"end","titlePadding":14}}}},
  {"mark":{"type":"point","shape":"circle","filled":false,"size":64,"strokeWidth":0.9,"opacity":0.9,"color":"#5555ff"},"encoding":{"x":{"field":"f","type":"quantitative","scale":{"domain":[759894,759918],"nice":false,"zero":false},"axis":null},"y":{"field":"obs","type":"quantitative","scale":{"domain":[-0.054,0.86],"nice":false,"zero":false},"axis":{"orient":"right","values":[0,0.125,0.25,0.375,0.5,0.625,0.75],"labels":false,"tickSize":{"condition":{"test":"abs(datum.value*4-round(datum.value*4))<1e-6","value":8},"value":5},"title":null}}}},
  {"mark":{"type":"line","color":"#0000ff","strokeWidth":1.2,"interpolate":"monotone"},"encoding":{"x":{"field":"f","type":"quantitative","scale":{"domain":[759894,759918],"nice":false,"zero":false},"axis":null},"y":{"field":"fit","type":"quantitative","scale":{"domain":[-0.054,0.86],"nice":false,"zero":false},"axis":null}}},
  {"data":{"values":[{"label":"14 Torr"}]},"mark":{"type":"text","align":"left","baseline":"alphabetic"},"encoding":{"text":{"field":"label","type":"nominal"},"x":{"datum":759894.85,"type":"quantitative","scale":{"domain":[759894,759918],"nice":false,"zero":false},"axis":null},"y":{"datum":0.648,"type":"quantitative","scale":{"domain":[-0.054,0.86],"nice":false,"zero":false},"axis":null}}},
  {"data":{"values":[{"label":"t=3 μs"}]},"mark":{"type":"text","align":"right","baseline":"alphabetic"},"encoding":{"text":{"field":"label","type":"nominal"},"x":{"datum":759917.36,"type":"quantitative","scale":{"domain":[759894,759918],"nice":false,"zero":false},"axis":null},"y":{"datum":0.637,"type":"quantitative","scale":{"domain":[-0.054,0.86],"nice":false,"zero":false},"axis":null}}}
 ]},
{"width":412,"height":105,"data":{"name":"b3"},"resolve":{"axis":{"y":"independent"}},
 "layer":[
  {"mark":{"type":"line","color":"#ff00ff","strokeWidth":1},"encoding":{"x":{"field":"f","type":"quantitative","scale":{"domain":[759894,759918],"nice":false,"zero":false},"axis":null},"y":{"field":"res","type":"quantitative","scale":{"domain":[-0.096,0.402],"nice":false,"zero":false},"axis":{"orient":"left","values":[0,0.125,0.25,0.375],"labelExpr":"abs(datum.value*4-round(datum.value*4))<1e-6 ? format(datum.value,'.2f') : ''","tickSize":{"condition":{"test":"abs(datum.value*4-round(datum.value*4))<1e-6","value":8},"value":5},"title":null}}}},
  {"mark":{"type":"point","shape":"circle","filled":false,"size":64,"strokeWidth":0.9,"opacity":0.9,"color":"#5555ff"},"encoding":{"x":{"field":"f","type":"quantitative","scale":{"domain":[759894,759918],"nice":false,"zero":false},"axis":null},"y":{"field":"obs","type":"quantitative","scale":{"domain":[-0.096,0.402],"nice":false,"zero":false},"axis":{"orient":"right","values":[0,0.125,0.25,0.375],"labels":false,"tickSize":{"condition":{"test":"abs(datum.value*4-round(datum.value*4))<1e-6","value":8},"value":5},"title":null}}}},
  {"mark":{"type":"line","color":"#0000ff","strokeWidth":1.2,"interpolate":"monotone"},"encoding":{"x":{"field":"f","type":"quantitative","scale":{"domain":[759894,759918],"nice":false,"zero":false},"axis":null},"y":{"field":"fit","type":"quantitative","scale":{"domain":[-0.096,0.402],"nice":false,"zero":false},"axis":null}}},
  {"data":{"values":[{"label":"14 Torr"}]},"mark":{"type":"text","align":"left","baseline":"alphabetic"},"encoding":{"text":{"field":"label","type":"nominal"},"x":{"datum":759894.8,"type":"quantitative","scale":{"domain":[759894,759918],"nice":false,"zero":false},"axis":null},"y":{"datum":0.286,"type":"quantitative","scale":{"domain":[-0.096,0.402],"nice":false,"zero":false},"axis":null}}},
  {"data":{"values":[{"label":"t=50-100 μs"}]},"mark":{"type":"text","align":"right","baseline":"alphabetic"},"encoding":{"text":{"field":"label","type":"nominal"},"x":{"datum":759917.4,"type":"quantitative","scale":{"domain":[759894,759918],"nice":false,"zero":false},"axis":null},"y":{"datum":0.271,"type":"quantitative","scale":{"domain":[-0.096,0.402],"nice":false,"zero":false},"axis":null}}}
 ]},
{"width":412,"height":105,"data":{"name":"a4"},"resolve":{"axis":{"y":"independent"}},
 "layer":[
  {"mark":{"type":"line","color":"#ff00ff","strokeWidth":1},"encoding":{"x":{"field":"f","type":"quantitative","scale":{"domain":[759894,759918],"nice":false,"zero":false},"axis":null},"y":{"field":"res","type":"quantitative","scale":{"domain":[-0.028,0.502],"nice":false,"zero":false},"axis":{"orient":"left","values":[0,0.1,0.2,0.3,0.4],"labelExpr":"abs(datum.value*5-round(datum.value*5))<1e-6 ? format(datum.value,'.1f') : ''","tickSize":{"condition":{"test":"abs(datum.value*5-round(datum.value*5))<1e-6","value":8},"value":5},"title":null}}}},
  {"mark":{"type":"point","shape":"circle","filled":false,"size":64,"strokeWidth":0.9,"opacity":0.9,"color":"#44aa44"},"encoding":{"x":{"field":"f","type":"quantitative","scale":{"domain":[759894,759918],"nice":false,"zero":false},"axis":null},"y":{"field":"obs","type":"quantitative","scale":{"domain":[-0.028,0.502],"nice":false,"zero":false},"axis":{"orient":"right","values":[0,0.1,0.2,0.3,0.4],"labels":false,"tickSize":{"condition":{"test":"abs(datum.value*5-round(datum.value*5))<1e-6","value":8},"value":5},"title":null}}}},
  {"mark":{"type":"line","color":"#007700","strokeWidth":1.2,"interpolate":"monotone"},"encoding":{"x":{"field":"f","type":"quantitative","scale":{"domain":[759894,759918],"nice":false,"zero":false},"axis":null},"y":{"field":"fit","type":"quantitative","scale":{"domain":[-0.028,0.502],"nice":false,"zero":false},"axis":null}}},
  {"data":{"values":[{"label":"6 Torr"}]},"mark":{"type":"text","align":"left","baseline":"alphabetic"},"encoding":{"text":{"field":"label","type":"nominal"},"x":{"datum":759894.85,"type":"quantitative","scale":{"domain":[759894,759918],"nice":false,"zero":false},"axis":null},"y":{"datum":0.376,"type":"quantitative","scale":{"domain":[-0.028,0.502],"nice":false,"zero":false},"axis":null}}},
  {"data":{"values":[{"label":"t=3 μs"}]},"mark":{"type":"text","align":"right","baseline":"alphabetic"},"encoding":{"text":{"field":"label","type":"nominal"},"x":{"datum":759917.36,"type":"quantitative","scale":{"domain":[759894,759918],"nice":false,"zero":false},"axis":null},"y":{"datum":0.376,"type":"quantitative","scale":{"domain":[-0.028,0.502],"nice":false,"zero":false},"axis":null}}}
 ]},
{"width":412,"height":105,"data":{"name":"b4"},"resolve":{"axis":{"y":"independent"}},
 "layer":[
  {"mark":{"type":"line","color":"#ff00ff","strokeWidth":1},"encoding":{"x":{"field":"f","type":"quantitative","scale":{"domain":[759894,759918],"nice":false,"zero":false},"axis":null},"y":{"field":"res","type":"quantitative","scale":{"domain":[-0.00494,0.02506],"nice":false,"zero":false},"axis":{"orient":"left","values":[0,0.005,0.01,0.015,0.02],"labelExpr":"abs(datum.value*100-round(datum.value*100))<1e-6 ? format(datum.value,'.2f') : ''","tickSize":{"condition":{"test":"abs(datum.value*100-round(datum.value*100))<1e-6","value":8},"value":5},"title":null}}}},
  {"mark":{"type":"point","shape":"circle","filled":false,"size":64,"strokeWidth":0.9,"opacity":0.9,"color":"#44aa44"},"encoding":{"x":{"field":"f","type":"quantitative","scale":{"domain":[759894,759918],"nice":false,"zero":false},"axis":null},"y":{"field":"obs","type":"quantitative","scale":{"domain":[-0.00494,0.02506],"nice":false,"zero":false},"axis":{"orient":"right","values":[0,0.005,0.01,0.015,0.02],"labels":false,"tickSize":{"condition":{"test":"abs(datum.value*100-round(datum.value*100))<1e-6","value":8},"value":5},"title":null}}}},
  {"mark":{"type":"line","color":"#007700","strokeWidth":1.2,"interpolate":"monotone"},"encoding":{"x":{"field":"f","type":"quantitative","scale":{"domain":[759894,759918],"nice":false,"zero":false},"axis":null},"y":{"field":"fit","type":"quantitative","scale":{"domain":[-0.00494,0.02506],"nice":false,"zero":false},"axis":null}}},
  {"data":{"values":[{"label":"6 Torr"}]},"mark":{"type":"text","align":"left","baseline":"alphabetic"},"encoding":{"text":{"field":"label","type":"nominal"},"x":{"datum":759894.8,"type":"quantitative","scale":{"domain":[759894,759918],"nice":false,"zero":false},"axis":null},"y":{"datum":0.0179,"type":"quantitative","scale":{"domain":[-0.00494,0.02506],"nice":false,"zero":false},"axis":null}}},
  {"data":{"values":[{"label":"t=400-500 μs"}]},"mark":{"type":"text","align":"right","baseline":"alphabetic"},"encoding":{"text":{"field":"label","type":"nominal"},"x":{"datum":759917.7,"type":"quantitative","scale":{"domain":[759894,759918],"nice":false,"zero":false},"axis":null},"y":{"datum":0.0165,"type":"quantitative","scale":{"domain":[-0.00494,0.02506],"nice":false,"zero":false},"axis":null}}}
 ]},
{"width":412,"height":105,"data":{"name":"a5"},"resolve":{"axis":{"y":"independent"}},
 "layer":[
  {"mark":{"type":"line","color":"#ff00ff","strokeWidth":1},"encoding":{"x":{"field":"f","type":"quantitative","scale":{"domain":[759894,759918],"nice":false,"zero":false},"axis":{"values":[759896,759900,759904,759908,759912,759916],"labelExpr":"datum.value % 8 == 0 ? format(datum.value,'d') : ''","tickSize":8,"labelFontSize":20,"labelPadding":6,"title":"Frequency (GHz)","titleFontSize":32,"titlePadding":17}},"y":{"field":"res","type":"quantitative","scale":{"domain":[-0.026,0.248],"nice":false,"zero":false},"axis":{"orient":"left","values":[0,0.05,0.1,0.15,0.2],"labelExpr":"abs(datum.value*10-round(datum.value*10))<1e-6 ? format(datum.value,'.1f') : ''","tickSize":{"condition":{"test":"abs(datum.value*10-round(datum.value*10))<1e-6","value":8},"value":5},"title":null}}}},
  {"mark":{"type":"point","shape":"circle","filled":false,"size":64,"strokeWidth":0.9,"opacity":0.9,"color":"#6363c0"},"encoding":{"x":{"field":"f","type":"quantitative","scale":{"domain":[759894,759918],"nice":false,"zero":false},"axis":{"values":[759896,759900,759904,759908,759912,759916],"labelExpr":"datum.value % 8 == 0 ? format(datum.value,'d') : ''","tickSize":8,"labelFontSize":20,"labelPadding":6,"title":"Frequency (GHz)","titleFontSize":32,"titlePadding":17}},"y":{"field":"obs","type":"quantitative","scale":{"domain":[-0.026,0.248],"nice":false,"zero":false},"axis":{"orient":"right","values":[0,0.05,0.1,0.15,0.2],"labels":false,"tickSize":{"condition":{"test":"abs(datum.value*10-round(datum.value*10))<1e-6","value":8},"value":5},"title":null}}}},
  {"mark":{"type":"line","color":"#000080","strokeWidth":1.2,"interpolate":"monotone"},"encoding":{"x":{"field":"f","type":"quantitative","scale":{"domain":[759894,759918],"nice":false,"zero":false},"axis":{"values":[759896,759900,759904,759908,759912,759916],"labelExpr":"datum.value % 8 == 0 ? format(datum.value,'d') : ''","tickSize":8,"labelFontSize":20,"labelPadding":6,"title":"Frequency (GHz)","titleFontSize":32,"titlePadding":17}},"y":{"field":"fit","type":"quantitative","scale":{"domain":[-0.026,0.248],"nice":false,"zero":false},"axis":null}}},
  {"data":{"values":[{"label":"1 Torr"}]},"mark":{"type":"text","align":"left","baseline":"alphabetic"},"encoding":{"text":{"field":"label","type":"nominal"},"x":{"datum":759894.85,"type":"quantitative","scale":{"domain":[759894,759918],"nice":false,"zero":false},"axis":{"values":[759896,759900,759904,759908,759912,759916],"labelExpr":"datum.value % 8 == 0 ? format(datum.value,'d') : ''","tickSize":8,"labelFontSize":20,"labelPadding":6,"title":"Frequency (GHz)","titleFontSize":32,"titlePadding":17}},"y":{"datum":0.185,"type":"quantitative","scale":{"domain":[-0.026,0.248],"nice":false,"zero":false},"axis":null}}},
  {"data":{"values":[{"label":"t=3 μs"}]},"mark":{"type":"text","align":"right","baseline":"alphabetic"},"encoding":{"text":{"field":"label","type":"nominal"},"x":{"datum":759917.36,"type":"quantitative","scale":{"domain":[759894,759918],"nice":false,"zero":false},"axis":{"values":[759896,759900,759904,759908,759912,759916],"labelExpr":"datum.value % 8 == 0 ? format(datum.value,'d') : ''","tickSize":8,"labelFontSize":20,"labelPadding":6,"title":"Frequency (GHz)","titleFontSize":32,"titlePadding":17}},"y":{"datum":0.183,"type":"quantitative","scale":{"domain":[-0.026,0.248],"nice":false,"zero":false},"axis":null}}}
 ]},
{"width":412,"height":105,"data":{"name":"b5"},"resolve":{"axis":{"y":"independent"}},
 "layer":[
  {"mark":{"type":"line","color":"#ff00ff","strokeWidth":1},"encoding":{"x":{"field":"f","type":"quantitative","scale":{"domain":[759894,759918],"nice":false,"zero":false},"axis":{"values":[759896,759900,759904,759908,759912,759916],"labelExpr":"datum.value % 8 == 0 ? format(datum.value,'d') : ''","tickSize":8,"labelFontSize":20,"labelPadding":6,"title":"Frequency (GHz)","titleFontSize":32,"titlePadding":17}},"y":{"field":"res","type":"quantitative","scale":{"domain":[-0.00263,0.01522],"nice":false,"zero":false},"axis":{"orient":"left","values":[0,0.005,0.01,0.015],"labelExpr":"abs(datum.value*100-round(datum.value*100))<1e-6 ? format(datum.value,'.2f') : ''","tickSize":{"condition":{"test":"abs(datum.value*100-round(datum.value*100))<1e-6","value":8},"value":5},"title":null}}}},
  {"mark":{"type":"point","shape":"circle","filled":false,"size":64,"strokeWidth":0.9,"opacity":0.9,"color":"#6363c0"},"encoding":{"x":{"field":"f","type":"quantitative","scale":{"domain":[759894,759918],"nice":false,"zero":false},"axis":{"values":[759896,759900,759904,759908,759912,759916],"labelExpr":"datum.value % 8 == 0 ? format(datum.value,'d') : ''","tickSize":8,"labelFontSize":20,"labelPadding":6,"title":"Frequency (GHz)","titleFontSize":32,"titlePadding":17}},"y":{"field":"obs","type":"quantitative","scale":{"domain":[-0.00263,0.01522],"nice":false,"zero":false},"axis":{"orient":"right","values":[0,0.005,0.01,0.015],"labels":false,"tickSize":{"condition":{"test":"abs(datum.value*100-round(datum.value*100))<1e-6","value":8},"value":5},"title":null}}}},
  {"mark":{"type":"line","color":"#000080","strokeWidth":1.2,"interpolate":"monotone"},"encoding":{"x":{"field":"f","type":"quantitative","scale":{"domain":[759894,759918],"nice":false,"zero":false},"axis":{"values":[759896,759900,759904,759908,759912,759916],"labelExpr":"datum.value % 8 == 0 ? format(datum.value,'d') : ''","tickSize":8,"labelFontSize":20,"labelPadding":6,"title":"Frequency (GHz)","titleFontSize":32,"titlePadding":17}},"y":{"field":"fit","type":"quantitative","scale":{"domain":[-0.00263,0.01522],"nice":false,"zero":false},"axis":null}}},
  {"data":{"values":[{"label":"1 Torr"}]},"mark":{"type":"text","align":"left","baseline":"alphabetic"},"encoding":{"text":{"field":"label","type":"nominal"},"x":{"datum":759894.8,"type":"quantitative","scale":{"domain":[759894,759918],"nice":false,"zero":false},"axis":{"values":[759896,759900,759904,759908,759912,759916],"labelExpr":"datum.value % 8 == 0 ? format(datum.value,'d') : ''","tickSize":8,"labelFontSize":20,"labelPadding":6,"title":"Frequency (GHz)","titleFontSize":32,"titlePadding":17}},"y":{"datum":0.01114,"type":"quantitative","scale":{"domain":[-0.00263,0.01522],"nice":false,"zero":false},"axis":null}}},
  {"data":{"values":[{"label":"t=400-500 μs"}]},"mark":{"type":"text","align":"right","baseline":"alphabetic"},"encoding":{"text":{"field":"label","type":"nominal"},"x":{"datum":759917.75,"type":"quantitative","scale":{"domain":[759894,759918],"nice":false,"zero":false},"axis":{"values":[759896,759900,759904,759908,759912,759916],"labelExpr":"datum.value % 8 == 0 ? format(datum.value,'d') : ''","tickSize":8,"labelFontSize":20,"labelPadding":6,"title":"Frequency (GHz)","titleFontSize":32,"titlePadding":17}},"y":{"datum":0.01039,"type":"quantitative","scale":{"domain":[-0.00263,0.01522],"nice":false,"zero":false},"axis":null}}}
 ]}
],
"config":{
 "view":{"stroke":"#000000","strokeWidth":1.6},
 "axis":{"labelFont":"Liberation Sans","titleFont":"Liberation Sans","labelColor":"#000000","titleColor":"#000000","titleFontWeight":"normal","tickColor":"#000000","tickWidth":1.3,"domain":false,"grid":false,"labelFontSize":18.5,"labelPadding":9,"labelOverlap":false,"labelFlush":false,"labelBound":false},
 "text":{"font":"Liberation Sans","fontSize":21,"color":"#000000"}
}
}
